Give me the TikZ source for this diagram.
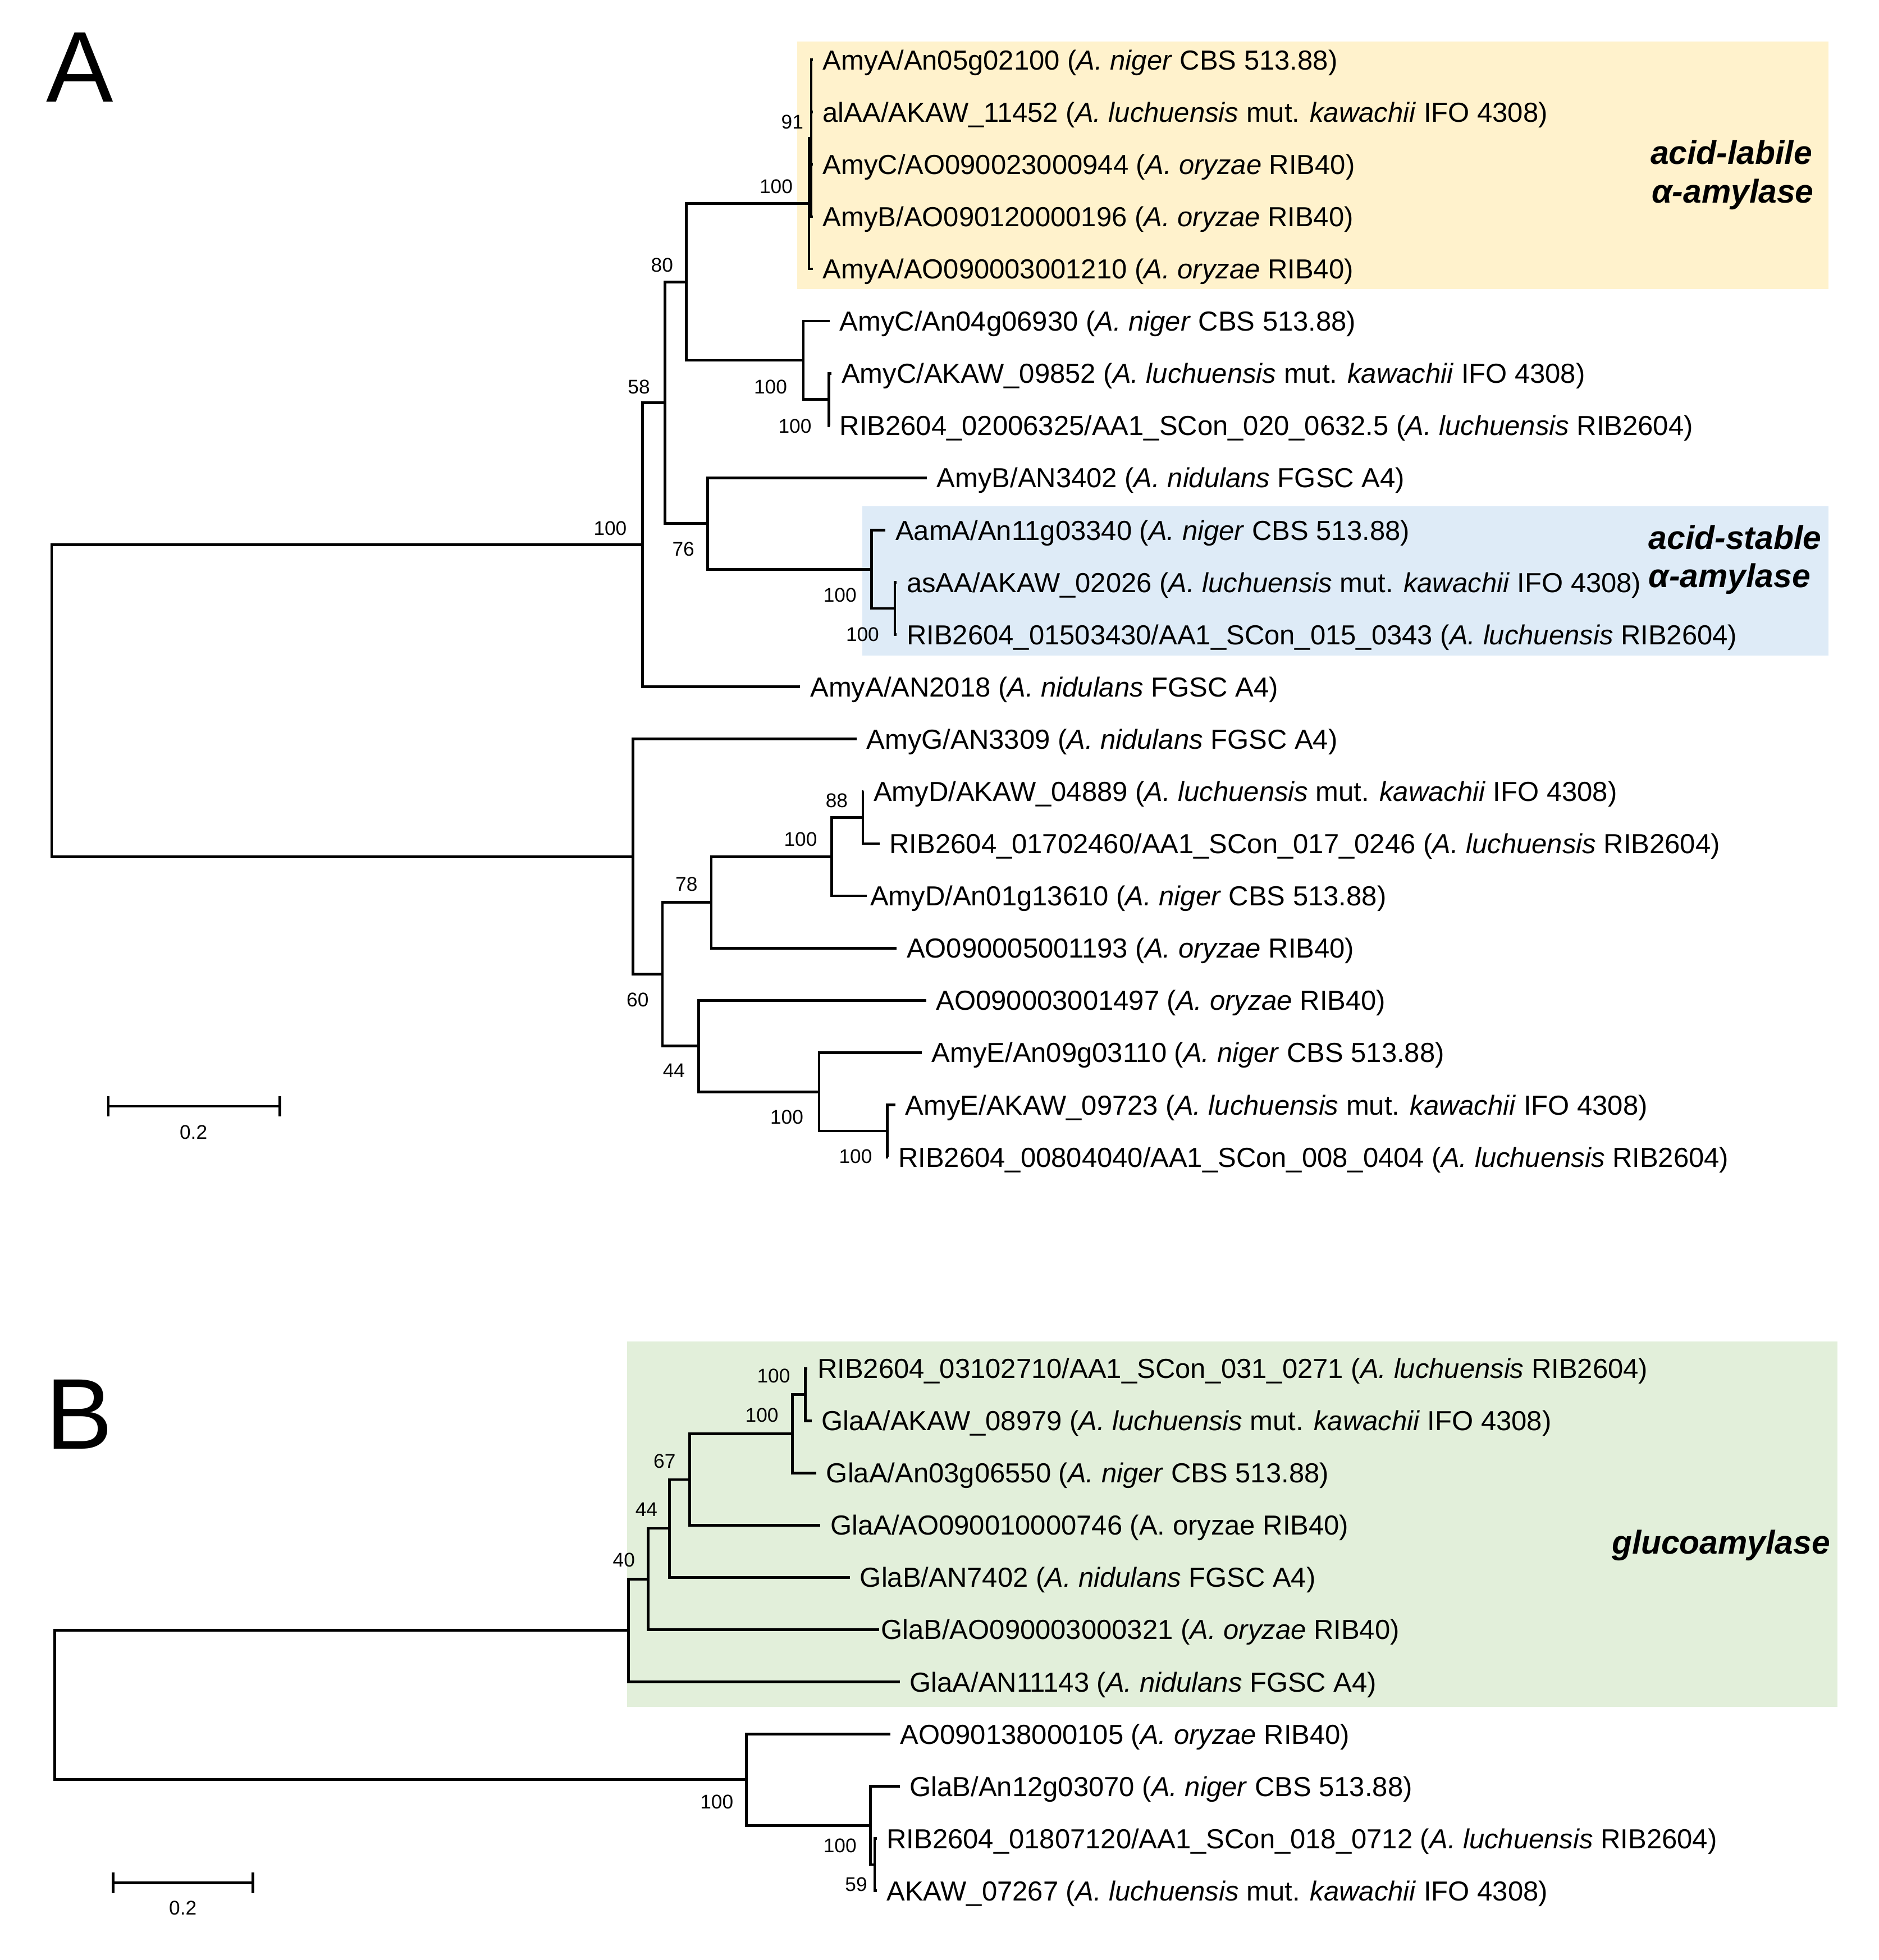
\documentclass[tikz,border=0pt]{standalone}
\usepackage{fontspec}
\setmainfont{Liberation Sans}
\usetikzlibrary{positioning}

\definecolor{labile}{HTML}{FFF2CC}
\definecolor{stable}{HTML}{DEEBF7}
\definecolor{gluco}{HTML}{E2EFDA}

\begin{document}
\begin{tikzpicture}[
    x = 0.02cm, % one unit = one pixel of the 1500 px wide figure
    y = -0.02cm, % y runs downwards
    line width = 1.2pt, % branch lines
    every node/.style = {inner sep = 0pt},
]

\tikzstyle{leaf}=[
    anchor = west,
    inner xsep = 0.14cm,
    text height = 9pt,
    text depth = 0pt,
    font = \fontsize{12.5}{15}\selectfont,
]
\tikzstyle{boot}=[
    anchor = east,
    text height = 6.4pt,
    text depth = 0pt,
    font = \fontsize{9}{11}\selectfont,
]
\tikzstyle{clade}=[anchor = base west, font = \fontsize{15}{18}\selectfont\bfseries\itshape]
\tikzstyle{panel}=[anchor = base west, font = \fontsize{45.7}{50}\selectfont]

\useasboundingbox (0,0) rectangle (1500,1565.4);

%%% panel A
\fill[labile] (636.5,33.3) rectangle (1460,231);
\fill[stable] (688.7,404.3) rectangle (1460,523.5);
\node[panel] (pa) at (36,81.5) {A};

\coordinate (ra) at (41.3,559.6);
\coordinate (na100) at (513,435.1);
\coordinate (na58) at (531,321.65);
\coordinate (na80) at (548,225.15);
\coordinate (nal) at (646,162.56);
\coordinate (na91) at (647.8,110.4);
\coordinate (nac) at (641.5,287.75);
\coordinate (nac2) at (662,319.05);
\coordinate (na76) at (565,418.15);
\coordinate (nas) at (696,454.67);
\coordinate (nas2) at (714.5,485.97);
\coordinate (nalo) at (505.5,684.19);
\coordinate (na60) at (529,778.08);
\coordinate (na78) at (568,720.7);
\coordinate (nad) at (664,684.18);
\coordinate (na88) at (689,652.89);
\coordinate (na44) at (558,835.46);
\coordinate (nae) at (654,871.97);
\coordinate (nae2) at (708.6,903.27);

\node[leaf] (a1) at (649,47.8) {AmyA/An05g02100 (\textit{A. niger} CBS 513.88)};
\node[leaf] (a2) at (649,89.53) {alAA/AKAW\_11452 (\textit{A. luchuensis} mut. \textit{kawachii} IFO 4308)};
\node[leaf] (a3) at (649,131.26) {AmyC/AO090023000944 (\textit{A. oryzae} RIB40)};
\node[leaf] (a4) at (649,172.99) {AmyB/AO090120000196 (\textit{A. oryzae} RIB40)};
\node[leaf] (a5) at (649,214.72) {AmyA/AO090003001210 (\textit{A. oryzae} RIB40)};
\node[leaf] (a6) at (662.5,256.45) {AmyC/An04g06930 (\textit{A. niger} CBS 513.88)};
\node[leaf] (a7) at (664,298.18) {AmyC/AKAW\_09852 (\textit{A. luchuensis} mut. \textit{kawachii} IFO 4308)};
\node[leaf] (a8) at (662.5,339.91) {RIB2604\_02006325/AA1\_SCon\_020\_0632.5 (\textit{A. luchuensis} RIB2604)};
\node[leaf] (a9) at (740,381.64) {AmyB/AN3402 (\textit{A. nidulans} FGSC A4)};
\node[leaf] (a10) at (707,423.37) {AamA/An11g03340 (\textit{A. niger} CBS 513.88)};
\node[leaf] (a11) at (716,465.1) {asAA/AKAW\_02026 (\textit{A. luchuensis} mut. \textit{kawachii} IFO 4308)};
\node[leaf] (a12) at (716,506.83) {RIB2604\_01503430/AA1\_SCon\_015\_0343 (\textit{A. luchuensis} RIB2604)};
\node[leaf] (a13) at (639,548.56) {AmyA/AN2018 (\textit{A. nidulans} FGSC A4)};
\node[leaf] (a14) at (684,590.29) {AmyG/AN3309 (\textit{A. nidulans} FGSC A4)};
\node[leaf] (a15) at (689.5,632.02) {AmyD/AKAW\_04889 (\textit{A. luchuensis} mut. \textit{kawachii} IFO 4308)};
\node[leaf] (a16) at (702.3,673.75) {RIB2604\_01702460/AA1\_SCon\_017\_0246 (\textit{A. luchuensis} RIB2604)};
\node[leaf, inner xsep=0.036cm] (a17) at (692,715.48) {AmyD/An01g13610 (\textit{A. niger} CBS 513.88)};
\node[leaf] (a18) at (716,757.21) {AO090005001193 (\textit{A. oryzae} RIB40)};
\node[leaf] (a19) at (739.5,798.94) {AO090003001497 (\textit{A. oryzae} RIB40)};
\node[leaf] (a20) at (736,840.67) {AmyE/An09g03110 (\textit{A. niger} CBS 513.88)};
\node[leaf] (a21) at (715,882.4) {AmyE/AKAW\_09723 (\textit{A. luchuensis} mut. \textit{kawachii} IFO 4308)};
\node[leaf] (a22) at (709.3,924.13) {RIB2604\_00804040/AA1\_SCon\_008\_0404 (\textit{A. luchuensis} RIB2604)};

\draw (ra) |- (na100) (ra) |- (nalo);
\draw (na100) |- (na58) (na100) |- (a13);
\draw (na58) |- (na80) (na58) |- (na76);
\draw (na80) |- (nal) (na80) |- (nac);
\draw (nal) |- (na91) (nal) |- (a5);
\draw (na91) |- (a1) (na91) |- (a2) (na91) |- (a3) (na91) |- (a4);
\draw (nac) |- (a6) (nac) |- (nac2);
\draw (nac2) |- (a7) (nac2) |- (a8);
\draw (na76) |- (a9) (na76) |- (nas);
\draw (nas) |- (a10) (nas) |- (nas2);
\draw (nas2) |- (a11) (nas2) |- (a12);
\draw (nalo) |- (a14) (nalo) |- (na60);
\draw (na60) |- (na78) (na60) |- (na44);
\draw (na78) |- (nad) (na78) |- (a18);
\draw (nad) |- (na88) (nad) |- (a17);
\draw (na88) |- (a15) (na88) |- (a16);
\draw (na44) |- (a19) (na44) |- (nae);
\draw (nae) |- (a20) (nae) |- (nae2);
\draw (nae2) |- (a21) (nae2) |- (a22);

% bootstrap values
\node[boot] (ba100) at (501.5,421.8) {100};
\node[boot] (ba58) at (520,308.9) {58};
\node[boot] (ba80) at (538.5,211.6) {80};
\node[boot] (bal) at (634,148.7) {100};
\node[boot] (ba91) at (642.5,97.2) {91};
\node[boot] (bac) at (629.5,308.9) {100};
\node[boot] (bac2) at (649,340) {100};
\node[boot] (ba76) at (555.5,438.5) {76};
\node[boot] (bas) at (685,475) {100};
\node[boot] (bas2) at (703,506.5) {100};
\node[boot] (ba60) at (519,798.3) {60};
\node[boot] (ba78) at (558,706) {78};
\node[boot] (bad) at (653.5,670) {100};
\node[boot] (ba88) at (678,639) {88};
\node[boot] (ba44) at (548,854.8) {44};
\node[boot] (bae) at (642.5,892) {100};
\node[boot] (bae2) at (697.4,923.6) {100};

\node[clade] (cla1) at (1317,131) {acid-labile};
\node[clade] (cla2) at (1318,162) {α-amylase};
\node[clade] (cls1) at (1315.5,438.5) {acid-stable};
\node[clade] (cls2) at (1315.5,469) {α-amylase};

% scale bar
\coordinate (sa0) at (86.5,883.5);
\coordinate (sa1) at (223.6,883.5);
\draw (sa0) -- (sa1) (sa0) ++(0,-8.2) -- ++(0,16.4) (sa1) ++(0,-8.2) -- ++(0,16.4);
\node[boot, anchor=center] (sla) at (154.5,904) {0.2};

%%% panel B
\fill[gluco] (500.6,1071.5) rectangle (1467,1363);
\node[panel] (pb) at (35.4,1157) {B};

\coordinate (rb) at (43.7,1361.8);
\coordinate (nbg) at (502,1302.15);
\coordinate (nb40) at (517.6,1261.1);
\coordinate (nb44) at (534.6,1220.7);
\coordinate (nb67) at (550.6,1181.6);
\coordinate (nb100b) at (632.8,1145.13);
\coordinate (nb100a) at (643,1113.85);
\coordinate (nbh) at (596,1421.4);
\coordinate (nbh1) at (695,1457.9);
\coordinate (nbh2) at (698.4,1489.15);

\node[leaf] (b1) at (644.7,1093) {RIB2604\_03102710/AA1\_SCon\_031\_0271 (\textit{A. luchuensis} RIB2604)};
\node[leaf] (b2) at (648,1134.7) {GlaA/AKAW\_08979 (\textit{A. luchuensis} mut. \textit{kawachii} IFO 4308)};
\node[leaf] (b3) at (651.8,1176.4) {GlaA/An03g06550 (\textit{A. niger} CBS 513.88)};
\node[leaf] (b4) at (655,1218.1) {GlaA/AO090010000746 (A. oryzae RIB40)};
\node[leaf] (b5) at (678.7,1259.8) {GlaB/AN7402 (\textit{A. nidulans} FGSC A4)};
\node[leaf, inner xsep=0.01cm] (b6) at (702,1301.5) {GlaB/AO090003000321 (\textit{A. oryzae} RIB40)};
\node[leaf] (b7) at (718.5,1343.2) {GlaA/AN11143 (\textit{A. nidulans} FGSC A4)};
\node[leaf] (b8) at (710.8,1384.9) {AO090138000105 (\textit{A. oryzae} RIB40)};
\node[leaf] (b9) at (718.5,1426.6) {GlaB/An12g03070 (\textit{A. niger} CBS 513.88)};
\node[leaf] (b10) at (700,1468.3) {RIB2604\_01807120/AA1\_SCon\_018\_0712 (\textit{A. luchuensis} RIB2604)};
\node[leaf] (b11) at (700,1510) {AKAW\_07267 (\textit{A. luchuensis} mut. \textit{kawachii} IFO 4308)};

\draw (rb) |- (nbg) (rb) |- (nbh);
\draw (nbg) |- (nb40) (nbg) |- (b7);
\draw (nb40) |- (nb44) (nb40) |- (b6);
\draw (nb44) |- (nb67) (nb44) |- (b5);
\draw (nb67) |- (nb100b) (nb67) |- (b4);
\draw (nb100b) |- (nb100a) (nb100b) |- (b3);
\draw (nb100a) |- (b1) (nb100a) |- (b2);
\draw (nbh) |- (b8) (nbh) |- (nbh1);
\draw (nbh1) |- (b9) (nbh1) |- (nbh2);
\draw (nbh2) |- (b10) (nbh2) |- (b11);

% bootstrap values
\node[boot] (bb100a) at (632,1098.5) {100};
\node[boot] (bb100b) at (622.6,1130) {100};
\node[boot] (bb67) at (540.5,1167) {67};
\node[boot] (bb44) at (526,1205.5) {44};
\node[boot] (bb40) at (508,1245.7) {40};
\node[boot] (bbh) at (586.6,1439) {100};
\node[boot] (bbh1) at (685,1474) {100};
\node[boot] (bbh2) at (693.5,1504.7) {59};

\node[clade] (clg) at (1286,1241) {glucoamylase};

% scale bar
\coordinate (sb0) at (90.4,1503.7);
\coordinate (sb1) at (202,1503.7);
\draw (sb0) -- (sb1) (sb0) ++(0,-8.4) -- ++(0,16.8) (sb1) ++(0,-8.4) -- ++(0,16.8);
\node[boot, anchor=center] (slb) at (146,1523.5) {0.2};
\end{tikzpicture}
\end{document}
